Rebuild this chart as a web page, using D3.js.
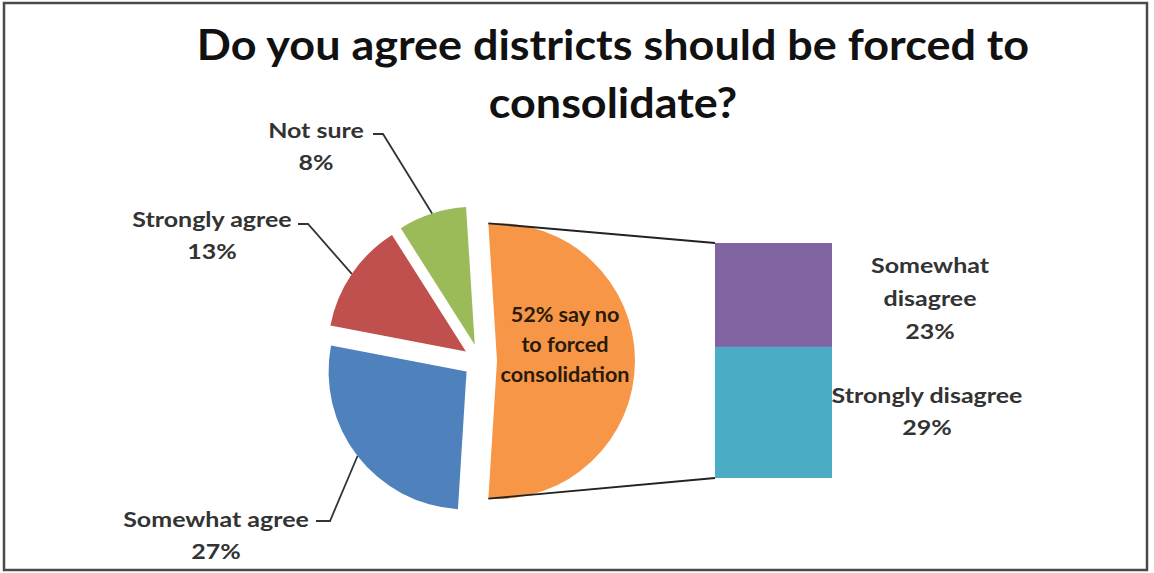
<!DOCTYPE html>
<html>
<head>
<meta charset="utf-8">
<script src="https://cdn.jsdelivr.net/npm/d3@7"></script>
<style>
  html, body { margin: 0; padding: 0; background: #fff; }
  svg { display: block; }
  text { font-family: Lato, "Open Sans", sans-serif; font-weight: 700; }
</style>
</head>
<body>
<svg id="chart" width="1154" height="573"></svg>
<script>
// ---- data ----
const pieCategories = ["Somewhat agree", "Strongly agree", "Not sure"];
const pieValues = [27, 13, 8];
const barCategories = ["Strongly disagree", "Somewhat disagree"];
const barValues = [29, 23];
const titleLines = ["Do you agree districts should be forced to", "consolidate?"];
const splitLabelLines = ["% say no", "to forced", "consolidation"];

// ---- layout / style ----
const colors = {
  "Other": "#F79646",
  "Somewhat agree": "#4F81BD",
  "Strongly agree": "#C0504D",
  "Not sure": "#9BBB59",
  "Strongly disagree": "#4BACC6",
  "Somewhat disagree": "#8064A2"
};
const cx = 480, cy = 361, R = 138, explode = 17;
const labelFont = 20, labelStretch = 1.25;

const svg = d3.select("#chart");

// helper: horizontally stretched text (reference image is stretched horizontally)
function sText(parent, x, yPos, str, size, sx, fill) {
  return parent.append("text")
    .attr("transform", `translate(${x},${yPos}) scale(${sx},1)`)
    .attr("text-anchor", "middle").attr("font-size", size).attr("fill", fill)
    .text(str);
}

// frame
svg.append("rect").attr("x", 4).attr("y", 3).attr("width", 1143).attr("height", 567)
  .attr("fill", "#fff").attr("stroke", "#4a4a4a").attr("stroke-width", 2.5);

// title
const gTitle = svg.append("g");
titleLines.forEach((t, i) => sText(gTitle, 613, 60 + i * 58, t, 42, 1.07, "#111"));

// ---- pie ----
const otherTotal = d3.sum(barValues);
const pieData = [{name: "Other", value: otherTotal}].concat(
  pieCategories.map((c, i) => ({name: c, value: pieValues[i]})));
const total = d3.sum(pieData, d => d.value);
const otherAngle = otherTotal / total * 2 * Math.PI;
const start = Math.PI / 2 - otherAngle / 2;
const pie = d3.pie().sort(null).value(d => d.value).startAngle(start).endAngle(start + 2 * Math.PI);
const arcs = pie(pieData);
const arc = d3.arc().innerRadius(0).outerRadius(R);

function offset(a) {
  const m = (a.startAngle + a.endAngle) / 2;
  return [explode * Math.sin(m), -explode * Math.cos(m)];
}

const gPie = svg.append("g").attr("transform", `translate(${cx},${cy})`);
gPie.selectAll("path").data(arcs).join("path")
  .attr("transform", d => { const o = offset(d); return `translate(${o[0]},${o[1]})`; })
  .attr("d", arc)
  .attr("fill", d => colors[d.data.name]);

// ---- bar of pie ----
const barX0 = 715, barX1 = 832;
const y = d3.scaleLinear().domain([0, otherTotal]).range([478, 243]);
const stack = [];
let acc = 0;
barCategories.forEach((c, i) => { stack.push({name: c, y0: acc, y1: acc + barValues[i]}); acc += barValues[i]; });
svg.append("g").selectAll("rect").data(stack).join("rect")
  .attr("x", barX0).attr("width", barX1 - barX0)
  .attr("y", d => y(d.y1)).attr("height", d => y(d.y0) - y(d.y1))
  .attr("fill", d => colors[d.name]);

// connector lines
const oArc = arcs[0];
const oo = offset(oArc);
const pStart = [cx + oo[0] + R * Math.sin(oArc.startAngle), cy + oo[1] - R * Math.cos(oArc.startAngle)];
const pEnd = [cx + oo[0] + R * Math.sin(oArc.endAngle), cy + oo[1] - R * Math.cos(oArc.endAngle)];
svg.append("line").attr("x1", pStart[0]).attr("y1", pStart[1]).attr("x2", barX0).attr("y2", y(otherTotal))
  .attr("stroke", "#222").attr("stroke-width", 1.8);
svg.append("line").attr("x1", pEnd[0]).attr("y1", pEnd[1]).attr("x2", barX0).attr("y2", y(0))
  .attr("stroke", "#222").attr("stroke-width", 1.8);

// split slice label
const splitText = [otherTotal + splitLabelLines[0], splitLabelLines[1], splitLabelLines[2]];
const gSplit = svg.append("g");
splitText.forEach((t, i) => sText(gSplit, 565, 322 + i * 30, t, 20, 1.08, "#2a1a0a"));

// pie labels with leader lines
const labelPos = {
  "Somewhat agree": {x: 216, y: 527, elbow: [330, 521], start: [316, 521]},
  "Strongly agree": {x: 212, y: 227, elbow: [308, 224], start: [298, 224]},
  "Not sure": {x: 316, y: 138, elbow: [383, 134], start: [373, 134]}
};
const gLab = svg.append("g");
arcs.slice(1).forEach(a => {
  const name = a.data.name;
  const lp = labelPos[name];
  const o = offset(a);
  const m = (a.startAngle + a.endAngle) / 2;
  const anchor = [cx + o[0] + R * Math.sin(m), cy + o[1] - R * Math.cos(m)];
  gLab.append("polyline")
    .attr("points", [lp.start, lp.elbow, anchor].map(p => p.join(",")).join(" "))
    .attr("fill", "none").attr("stroke", "#333").attr("stroke-width", 1.8);
  const pct = Math.round(a.data.value / total * 100) + "%";
  sText(gLab, lp.x, lp.y, name, labelFont, labelStretch, "#333");
  sText(gLab, lp.x, lp.y + 32, pct, labelFont, labelStretch, "#333");
});

// bar labels
const barLabelPos = {
  "Somewhat disagree": {x: 930, lines: ["Somewhat", "disagree"], y: 273, gap: 33},
  "Strongly disagree": {x: 927, lines: ["Strongly disagree"], y: 403, gap: 32}
};
const gBarLab = svg.append("g");
barCategories.forEach((c, i) => {
  const lp = barLabelPos[c];
  const lines = lp.lines.concat([Math.round(barValues[i] / total * 100) + "%"]);
  lines.forEach((t, j) => sText(gBarLab, lp.x, lp.y + j * lp.gap, t, labelFont, labelStretch, "#333"));
});
</script>
</body>
</html>
